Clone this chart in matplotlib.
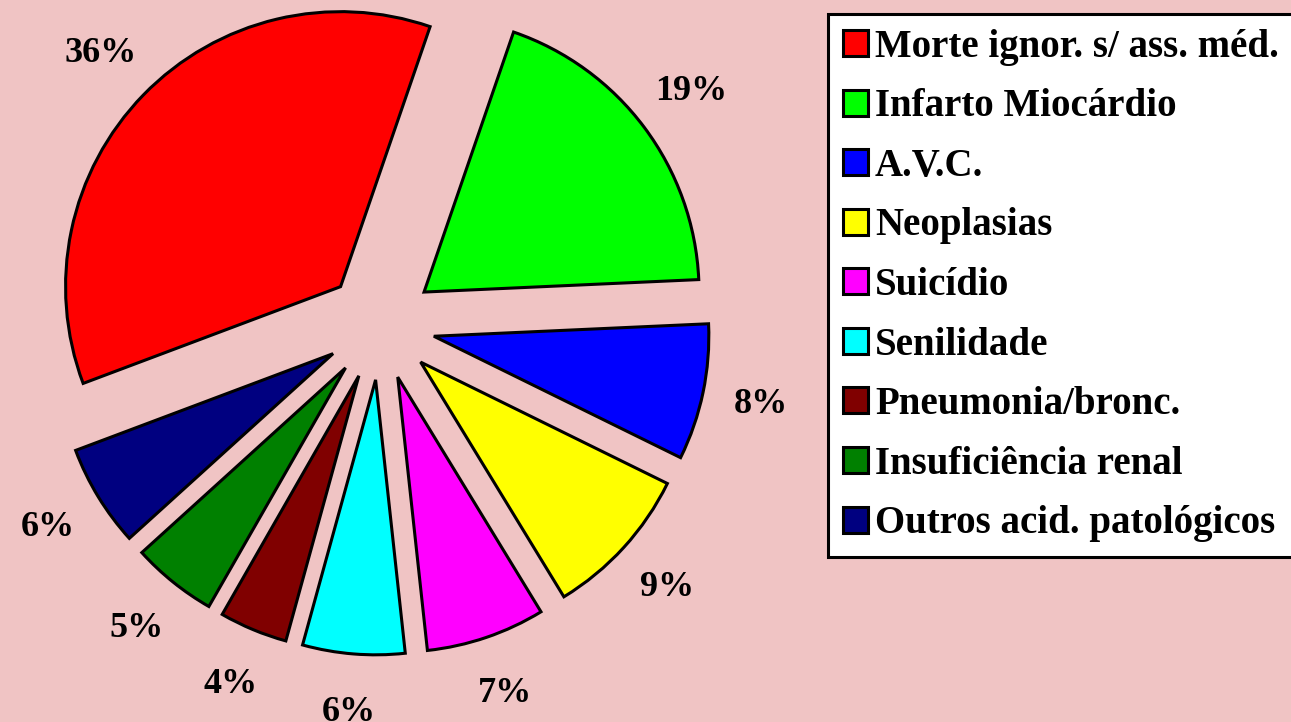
import matplotlib
matplotlib.use("Agg")
import matplotlib.pyplot as plt

categories = ["Morte ignor. s/ ass. méd.", "Infarto Miocárdio", "A.V.C.", "Neoplasias",
              "Suicídio", "Senilidade", "Pneumonia/bronc.", "Insuficiência renal",
              "Outros acid. patológicos"]
values = [36, 19, 8, 9, 7, 6, 4, 5, 6]
colors = ["#FF0000", "#00FF00", "#0000FF", "#FFFF00", "#FF00FF", "#00FFFF",
          "#800000", "#008000", "#000080"]

bg = "#F0C4C4"
fig = plt.figure(figsize=(12.91, 7.22), dpi=100, facecolor=bg)
ax = fig.add_axes([0, 0, 1, 1])
ax.set_facecolor(bg)

wedges, texts, autotexts = ax.pie(
    values, colors=colors, explode=[0.2] * len(values), startangle=200.6,
    counterclock=False, autopct=lambda p: f"{p:.0f}%", pctdistance=1.215,
    wedgeprops=dict(edgecolor="black", linewidth=2.2),
    textprops=dict(family="Liberation Serif", fontweight="bold", fontsize=26, color="black"))

R = 275.0
cx, cy = 380.0, 325.0
W, H = 1291.0, 722.0
ax.set_xlim(-cx / R, (W - cx) / R)
ax.set_ylim(-(H - cy) / R, cy / R)
ax.set_aspect("auto")
ax.axis("off")

leg = fig.legend(wedges, categories, loc="upper left",
                 bbox_to_anchor=(828 / W, 1 - 14 / H), borderaxespad=0,
                 prop=dict(family="Liberation Serif", weight="bold", size=28),
                 handlelength=0.65, handleheight=0.65, handletextpad=0.18,
                 labelspacing=0.58, borderpad=0.38, fancybox=False,
                 frameon=True, framealpha=1)
fr = leg.get_frame()
fr.set_facecolor("white")
fr.set_edgecolor("black")
fr.set_linewidth(2.2)

fig.savefig("out.png", dpi=100, facecolor=bg)
